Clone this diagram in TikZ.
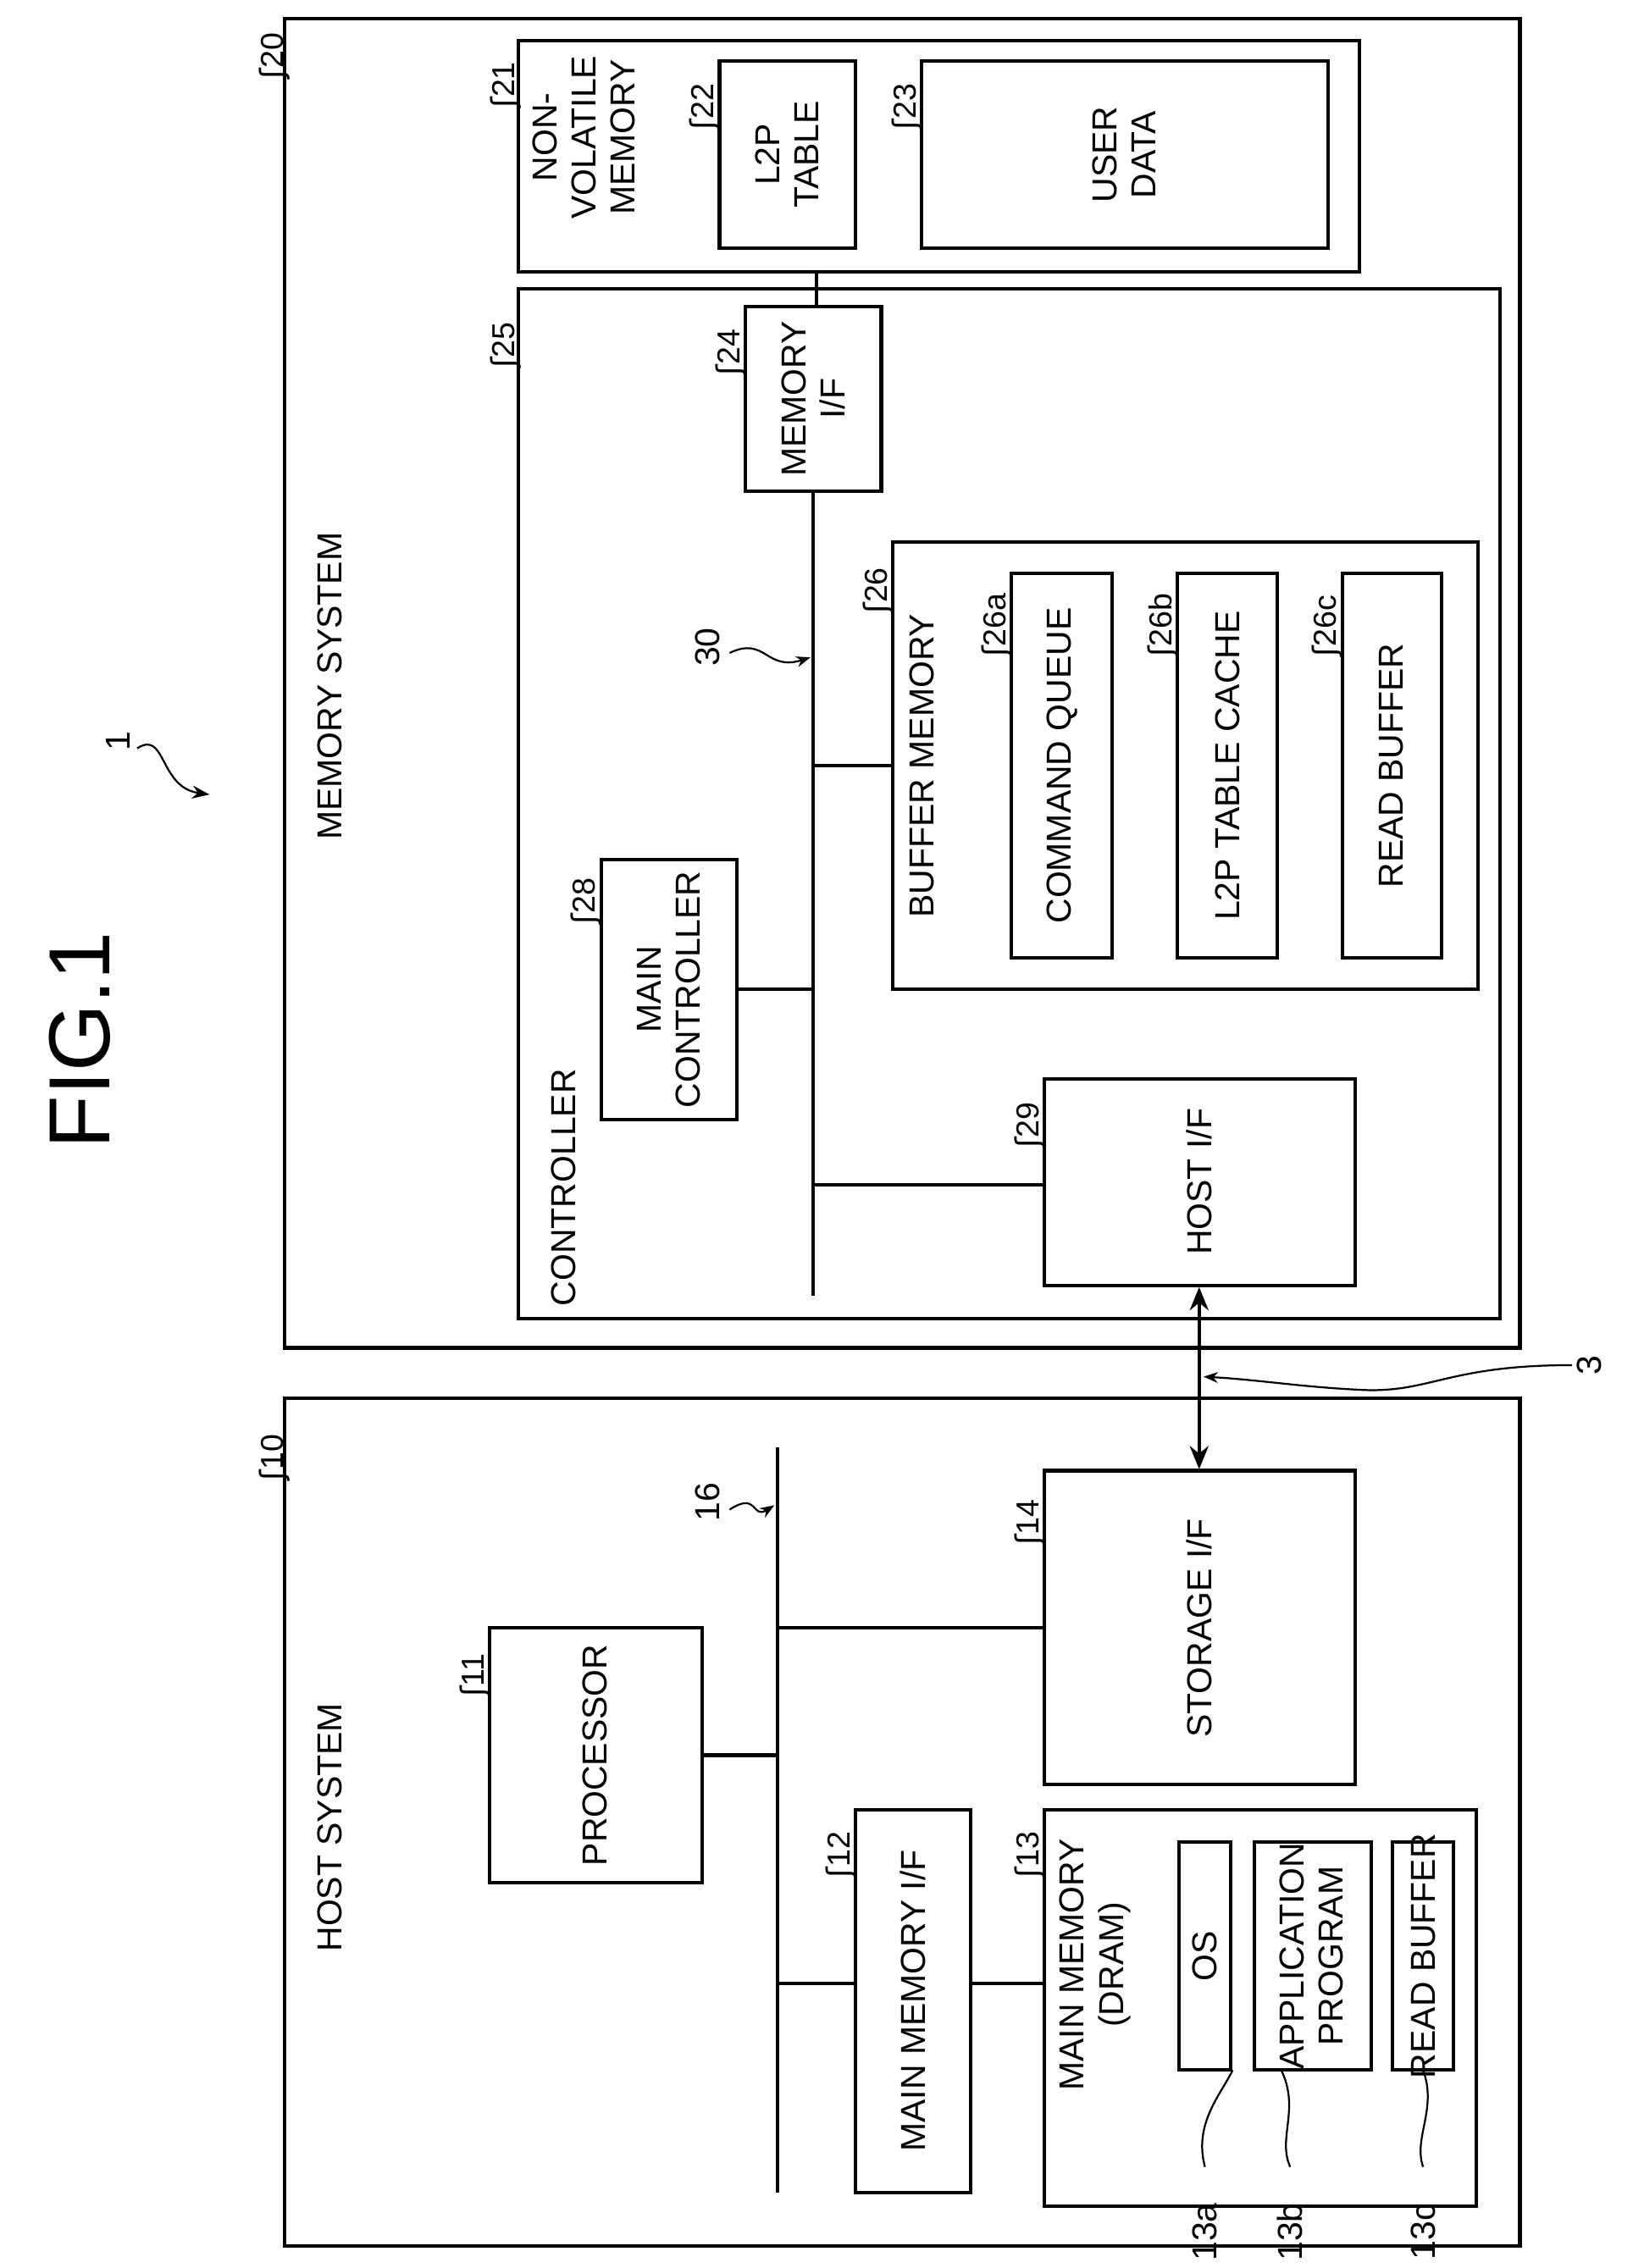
\documentclass[tikz,border=0pt]{standalone}
\usepackage{fontspec}
\setmainfont{Liberation Sans}
\newfontfamily\dv{DejaVu Sans}
\usetikzlibrary{fit,arrows.meta}
\begin{document}
\begin{tikzpicture}[x=1pt,y=-1pt,
  box/.style={draw,line width=2.4pt,inner sep=0pt},
  ln/.style={line width=2.4pt},
  txt/.style={rotate=90,font=\fontsize{24}{27}\selectfont,align=center,inner sep=0pt},
  rl/.style={rotate=90,font=\fontsize{22}{24}\selectfont,inner sep=0pt,anchor=west},
  lead/.style={line width=1.3pt}]
\useasboundingbox (0,0) rectangle (1130,1570);
\newcommand\bx[5]{\node[box,fit={(#2,#3)(#4,#5)}] (#1) {};}
\newcommand\rn[3]{\node[rl] (#1) at (#2) {{\dv ʃ}#3};}
% memory system
\bx{b20}{197}{13}{1052}{933}
\bx{b21}{359}{28}{941}{188}
\bx{b22}{498}{42}{592}{172}
\bx{b23}{638}{42}{919}{172}
\bx{b25}{359}{200}{1038}{913}
\bx{b24}{516}{212}{610}{340}
\bx{b26}{618}{375}{1023}{685}
\bx{b26a}{700}{397}{770}{663}
\bx{b26b}{815}{397}{884}{663}
\bx{b26c}{929}{397}{998}{663}
\bx{b28}{416}{595}{510}{775}
\bx{b29}{723}{747}{938}{890}
% host
\bx{b10}{197}{968}{1052}{1555}
\bx{b14}{723}{1018}{938}{1235}
\bx{b11}{339}{1127}{486}{1303}
\bx{b12}{592}{1253}{672}{1518}
\bx{b13}{723}{1253}{1022}{1527}
\bx{b13a}{816}{1275}{852}{1433}
\bx{b13b}{868}{1275}{949}{1433}
\bx{b13c}{964}{1275}{1006}{1433}
% buses
\coordinate (t30) at (563,340); \coordinate (e30) at (563,897);
\draw[ln] (565,188) -- (565,212);
\draw[ln] (t30) -- (e30);
\draw[ln] (563,530) -- (b26.west|-0,530);
\draw[ln] (b28.east|-0,685) -- (563,685);
\draw[ln] (563,820) -- (b29.west|-0,820);
\coordinate (t16) at (538,1002); \coordinate (e16) at (538,1518);
\draw[ln] (t16) -- (e16);
\draw[ln] (538,1127) -- (b14.west|-0,1127);
\draw[ln] (b11.east|-0,1215) -- (538,1215);
\draw[ln] (538,1373) -- (b12.west|-0,1373);
\draw[ln] (b12.east|-0,1373) -- (b13.west|-0,1373);
\draw[ln,{Stealth[length=16pt,width=13pt]}-{Stealth[length=16pt,width=13pt]}] (830,891) -- (830,1017);
% texts
\node[rotate=90,font=\fontsize{60}{60}\selectfont] (fig) at (55,720) {FIG.1};
\node[rotate=90,font=\fontsize{24}{27}\selectfont] (one) at (82,513) {1};
\draw[lead,-{Stealth[length=12pt]}] (95,518) .. controls (115,505) and (110,545) .. (145,550);
\node[txt] at (228,475) {MEMORY SYSTEM};
\node[txt] at (228,1265) {HOST SYSTEM};
\node[txt] at (390,822) {CONTROLLER};
\node[txt] at (404,95) {NON-\\VOLATILE\\MEMORY};
\node[txt] at (545,107) {L2P\\TABLE};
\node[txt] at (778,107) {USER\\DATA};
\node[txt] at (563,276) {MEMORY\\I/F};
\node[txt] at (638,530) {BUFFER MEMORY};
\node[txt] at (735,530) {COMMAND QUEUE};
\node[txt] at (850,530) {L2P TABLE CACHE};
\node[txt] at (963,530) {READ BUFFER};
\node[txt] at (463,685) {MAIN\\CONTROLLER};
\node[txt] at (830,818) {HOST I/F};
\node[txt] at (830,1127) {STORAGE I/F};
\node[txt] at (412,1215) {PROCESSOR};
\node[txt] at (632,1385) {MAIN MEMORY I/F};
\node[txt] at (758,1360) {MAIN MEMORY\\(DRAM)};
\node[txt] at (834,1354) {OS};
\node[txt] at (908,1354) {APPLICATION\\PROGRAM};
\node[txt] at (985,1354) {READ BUFFER};
% reference numbers
\rn{r20}{190,55}{20}
\rn{r21}{350,75}{21}
\rn{r22}{488,90}{22}
\rn{r23}{628,90}{23}
\rn{r25}{350,255}{25}
\rn{r24}{506,260}{24}
\rn{r26}{608,425}{26}
\rn{r26a}{690,455}{26a}
\rn{r26b}{805,455}{26b}
\rn{r26c}{919,455}{26c}
\rn{r28}{406,640}{28}
\rn{r29}{713,795}{29}
\rn{r10}{190,1025}{10}
\rn{r14}{713,1070}{14}
\rn{r11}{329,1175}{11}
\rn{r12}{582,1300}{12}
\rn{r13}{713,1300}{13}
% 30 and 16 leaders
\node[txt] (l30) at (490,448) {30};
\draw[lead,-{Stealth[length=10pt]}] (505,452) .. controls (530,440) and (530,465) .. (561,455);
\node[txt] (l16) at (490,1040) {16};
\draw[lead,-{Stealth[length=10pt]}] (505,1045) .. controls (525,1032) and (520,1052) .. (536,1042);
% 3
\node[txt] (l3) at (1100,945) {3};
\draw[lead,-{Stealth[length=10pt]}] (1088,945) .. controls (1000,945) and (990,965) .. (940,962) .. controls (900,960) and (870,955) .. (833,953);
% 13a-c
\node[txt] (l13a) at (834,1545) {13a};
\node[txt] (l13b) at (893,1545) {13b};
\node[txt] (l13c) at (985,1545) {13c};
\draw[lead] (b13a.east|-0,1433) .. controls (845,1450) and (826,1470) .. (834,1500);
\draw[lead] (b13b.west|-0,1433) ++(20,0) .. controls (900,1460) and (884,1480) .. (893,1500);
\draw[lead] (985,1433) .. controls (995,1460) and (978,1480) .. (985,1500);
\end{tikzpicture}
\end{document}
